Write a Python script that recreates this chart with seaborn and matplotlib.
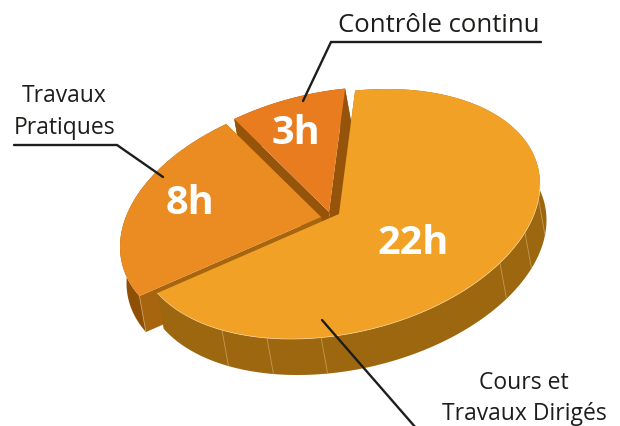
import numpy as np
import matplotlib
matplotlib.use("Agg")
import matplotlib.pyplot as plt
import seaborn as sns


# ---- Data --------------------------------------------------------####

hours = [22, 8, 3]
hour_labels = ["22h", "8h", "3h"]
slice_colors = ["#f2a127", "#ea8c22", "#ea7c20"]
rim_colors = ["#9c670f", "#8f5005", "#96540a"]
cut_colors = ["#9c670f", "#a8650f", "#96540a"]

# ---- Settings ----------------------------------------------------####

# pie geometry, in pixels of the picture
start_angle = -85.4
ellipse_a, ellipse_b, ellipse_c = 201, -29.85, 121.4
depth = np.array([6.5, 36])
apexes = [(339, 215), (321, 218), (329, 213)]
label_pos = [(413, 244), (190, 204), (296, 134)]

# facet lines on the rim of the biggest slice
seam_angles = [7, 22.3, 36.8, 95.1, 111, 125.6]

sns.set_theme(style="white")
plt.rcParams["font.family"] = ["Open Sans", "DejaVu Sans"]
palette = sns.color_palette(slice_colors)


def arc(apex, t0, t1, n=240):
    t = np.radians(np.linspace(t0, t1, n))
    x = apex[0] + ellipse_a * np.cos(t)
    y = apex[1] + ellipse_b * np.cos(t) + ellipse_c * np.sin(t)
    return np.column_stack([x, y])


# ---- Plot --------------------------------------------------------####

fig = plt.figure(figsize=(6.2, 4.27), dpi=100)
ax = fig.add_axes([0, 0, 1, 1])
ax.set_xlim(0, 620)
ax.set_ylim(427, 0)
ax.axis("off")

# slice limits come from the hours
sweeps = np.array(hours) / sum(hours) * 360
starts = start_angle + np.concatenate([[0], np.cumsum(sweeps)[:-1]])

tops = []
for i in [2, 1, 0]:
    apex = np.array(apexes[i], dtype=float)
    top_arc = arc(apex, starts[i], starts[i] + sweeps[i])
    tops.append((i, apex, top_arc))

    # rim
    low_arc = top_arc + depth
    rim = np.vstack([top_arc, low_arc[::-1]])
    ax.fill(rim[:, 0], rim[:, 1], color=rim_colors[i], lw=0, zorder=1 + 2 - i)

    # cut faces
    for end in [top_arc[0], top_arc[-1]]:
        face = np.array([apex, end, end + depth, apex + depth])
        ax.fill(face[:, 0], face[:, 1], color=cut_colors[i], lw=0, zorder=1 + 2 - i)

# facet lines
for angle in seam_angles:
    p = arc(apexes[0], angle, angle, n=1)[0]
    ax.plot([p[0], p[0] + depth[0]], [p[1], p[1] + depth[1]], color="#c49a55", lw=0.6, zorder=5)
corner = tops[1][2][0]
ax.plot([corner[0], corner[0] + depth[0]], [corner[1], corner[1] + depth[1]], color="#c99a5e", lw=0.6, zorder=5)

# top faces
for i, apex, top_arc in tops:
    top = np.vstack([apex, top_arc])
    ax.fill(top[:, 0], top[:, 1], color=palette[i], lw=0, zorder=6)
    ax.text(label_pos[i][0], label_pos[i][1], hour_labels[i], color="white", fontsize=28.5,
            fontweight="bold", ha="center", va="center", zorder=8)

# light edge where the big slice meets its rim
edge = arc(apexes[0], 0, starts[0] + sweeps[0])
ax.plot(edge[:, 0], edge[:, 1], color="#f6cf91", lw=0.5, zorder=6)

# leader lines
line_color = "#1d1d1b"
ax.plot([303, 331, 541], [102, 43, 43], color=line_color, lw=1.7, zorder=7, solid_joinstyle="miter")
ax.plot([14, 117, 163], [146, 146, 178], color=line_color, lw=1.7, zorder=7, solid_joinstyle="miter")
ax.plot([322, 416], [321, 429], color=line_color, lw=1.7, zorder=7)

# category labels
ax.text(439, 25, "Contrôle continu", color=line_color, fontsize=18.5, ha="center", va="center")
ax.text(64, 96, "Travaux", color=line_color, fontsize=16.5, ha="center", va="center")
ax.text(65, 128, "Pratiques", color=line_color, fontsize=16.5, ha="center", va="center")
ax.text(524, 383, "Cours et", color=line_color, fontsize=16.5, ha="center", va="center")
ax.text(524, 414, "Travaux Dirigés", color=line_color, fontsize=16.5, ha="center", va="center")

fig.savefig("out.png", dpi=100)
